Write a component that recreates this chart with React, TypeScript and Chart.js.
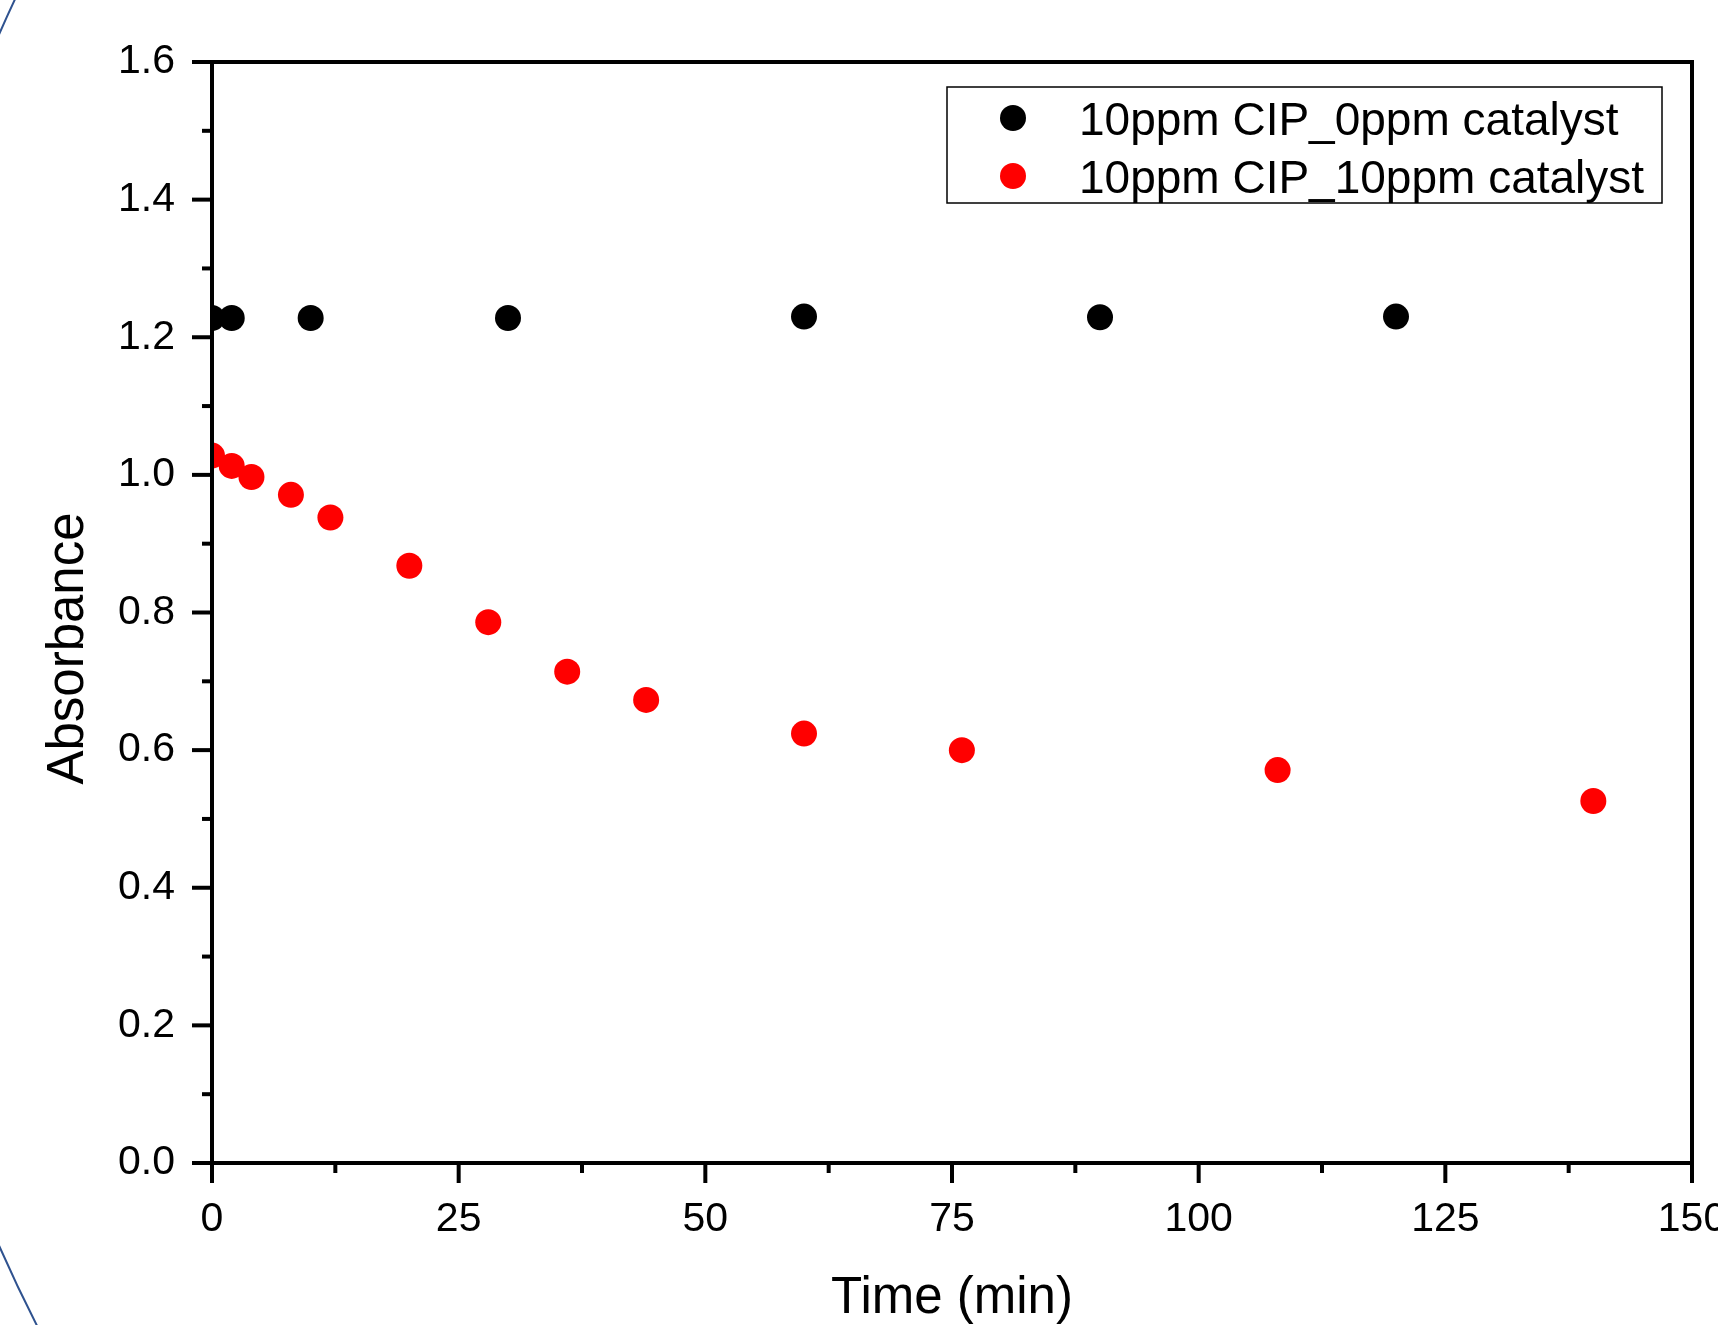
import React, { useEffect, useRef } from "react";
import { Chart, registerables } from "chart.js";

Chart.register(...registerables);

const seriesLabels = ["10ppm CIP_0ppm catalyst", "10ppm CIP_10ppm catalyst"];
const seriesColors = ["#000000", "#FF0000"];

const timeNoCatalyst = [0, 2, 10, 30, 60, 90, 120];
const absNoCatalyst = [1.228, 1.228, 1.228, 1.228, 1.23, 1.229, 1.23];

const timeCatalyst = [0, 2, 4, 8, 12, 20, 28, 36, 44, 60, 76, 108, 140];
const absCatalyst = [1.028, 1.013, 0.997, 0.971, 0.938, 0.868, 0.786, 0.714, 0.673, 0.624, 0.6, 0.571, 0.526];

const xTitle = "Time (min)";
const yTitle = "Absorbance";

const FONT = "'Liberation Sans', Arial, Helvetica, sans-serif";

const decorPlugin = {
  id: "decor",
  beforeDraw(chart: any) {
    const ctx = chart.ctx;
    ctx.save();
    ctx.strokeStyle = "#2F528F";
    ctx.lineWidth = 2;
    ctx.beginPath();
    ctx.arc(1379, 640, 1507, 0, Math.PI * 2);
    ctx.stroke();
    ctx.restore();
  },
  afterDatasetsDraw(chart: any) {
    const ctx = chart.ctx;
    const ca = chart.chartArea;
    const xs = chart.scales.x;
    const ys = chart.scales.y;
    ctx.save();
    ctx.strokeStyle = "#000";
    ctx.lineWidth = 4;
    ctx.lineCap = "butt";
    ctx.strokeRect(ca.left, ca.top, ca.right - ca.left, ca.bottom - ca.top);
    // x ticks
    for (let i = 0; i <= 12; i++) {
      const v = i * 12.5;
      const px = xs.getPixelForValue(v);
      const len = i % 2 === 0 ? 20 : 10;
      ctx.beginPath();
      ctx.moveTo(px, ca.bottom);
      ctx.lineTo(px, ca.bottom + len);
      ctx.stroke();
    }
    // y ticks
    for (let i = 0; i <= 16; i++) {
      const v = i * 0.1;
      const py = ys.getPixelForValue(v);
      const len = i % 2 === 0 ? 20 : 10;
      ctx.beginPath();
      ctx.moveTo(ca.left, py);
      ctx.lineTo(ca.left - len, py);
      ctx.stroke();
    }
    // y title
    ctx.fillStyle = "#000";
    ctx.font = `51px ${FONT}`;
    ctx.translate(83, (ca.top + ca.bottom) / 2 + 36);
    ctx.rotate(-Math.PI / 2);
    ctx.textAlign = "center";
    ctx.textBaseline = "alphabetic";
    ctx.fillText(yTitle, 0, 0);
    ctx.restore();

    // legend
    ctx.save();
    const boxRight = ca.right - 30;
    const boxLeft = boxRight - 715;
    const boxTop = ca.top + 25;
    const boxH = 116;
    ctx.fillStyle = "#fff";
    ctx.fillRect(boxLeft, boxTop, boxRight - boxLeft, boxH);
    ctx.strokeStyle = "#000";
    ctx.lineWidth = 1.5;
    ctx.strokeRect(boxLeft, boxTop, boxRight - boxLeft, boxH);
    chart.data.datasets.forEach((ds: any, i: number) => {
      const my = boxTop + 31 + i * 58;
      ctx.fillStyle = ds.backgroundColor;
      ctx.beginPath();
      ctx.arc(boxLeft + 66, my, 13, 0, Math.PI * 2);
      ctx.fill();
      ctx.fillStyle = "#000";
      ctx.font = `46px ${FONT}`;
      ctx.textAlign = "left";
      ctx.textBaseline = "alphabetic";
      ctx.fillText(ds.label, boxLeft + 132, my + 17);
    });
    ctx.restore();
  },
};

export default function App() {
  const ref = useRef<HTMLCanvasElement | null>(null);

  useEffect(() => {
    if (!ref.current) return;
    const chart = new Chart(ref.current, {
      type: "scatter",
      data: {
        datasets: [
          {
            label: seriesLabels[0],
            data: timeNoCatalyst.map((t, i) => ({ x: t, y: absNoCatalyst[i] })),
            backgroundColor: seriesColors[0],
            borderColor: seriesColors[0],
            borderWidth: 0,
            pointRadius: 13,
            pointHoverRadius: 13,
            clip: 0,
          },
          {
            label: seriesLabels[1],
            data: timeCatalyst.map((t, i) => ({ x: t, y: absCatalyst[i] })),
            backgroundColor: seriesColors[1],
            borderColor: seriesColors[1],
            borderWidth: 0,
            pointRadius: 13,
            pointHoverRadius: 13,
            clip: 0,
          },
        ],
      },
      options: {
        responsive: false,
        animation: false,
        devicePixelRatio: 1,
        layout: { padding: { top: 62, right: 26, left: 0, bottom: 0 } },
        plugins: { legend: { display: false }, tooltip: { enabled: false } },
        scales: {
          x: {
            type: "linear",
            min: 0,
            max: 150,
            ticks: {
              stepSize: 25,
              color: "#000",
              font: { family: FONT, size: 41 },
              padding: 12,
              maxRotation: 0,
              autoSkip: false,
            },
            grid: { drawOnChartArea: false, color: "rgba(0,0,0,0)", tickLength: 20 },
            border: { display: false },
            title: {
              display: true,
              text: xTitle,
              color: "#000",
              font: { family: FONT, size: 51 },
              padding: { top: 0, bottom: -5 },
            },
            afterFit: (s: any) => {
              s.height = 162;
              s.paddingLeft = 0;
              s.paddingRight = 0;
            },
          },
          y: {
            type: "linear",
            min: 0,
            max: 1.6,
            ticks: {
              stepSize: 0.2,
              color: "#000",
              font: { family: FONT, size: 41 },
              padding: 17,
              callback: (v: any) => Number(v).toFixed(1),
            },
            grid: { drawOnChartArea: false, color: "rgba(0,0,0,0)", tickLength: 20 },
            border: { display: false },
            afterFit: (s: any) => {
              s.width = 212;
              s.paddingTop = 0;
              s.paddingBottom = 0;
            },
          },
        },
      },
      plugins: [decorPlugin],
    });
    return () => chart.destroy();
  }, []);

  return (
    <div style={{ position: "absolute", left: 0, top: 0, width: 1718, height: 1325, background: "#fff" }}>
      <canvas ref={ref} width={1718} height={1325} style={{ display: "block" }} />
    </div>
  );
}
